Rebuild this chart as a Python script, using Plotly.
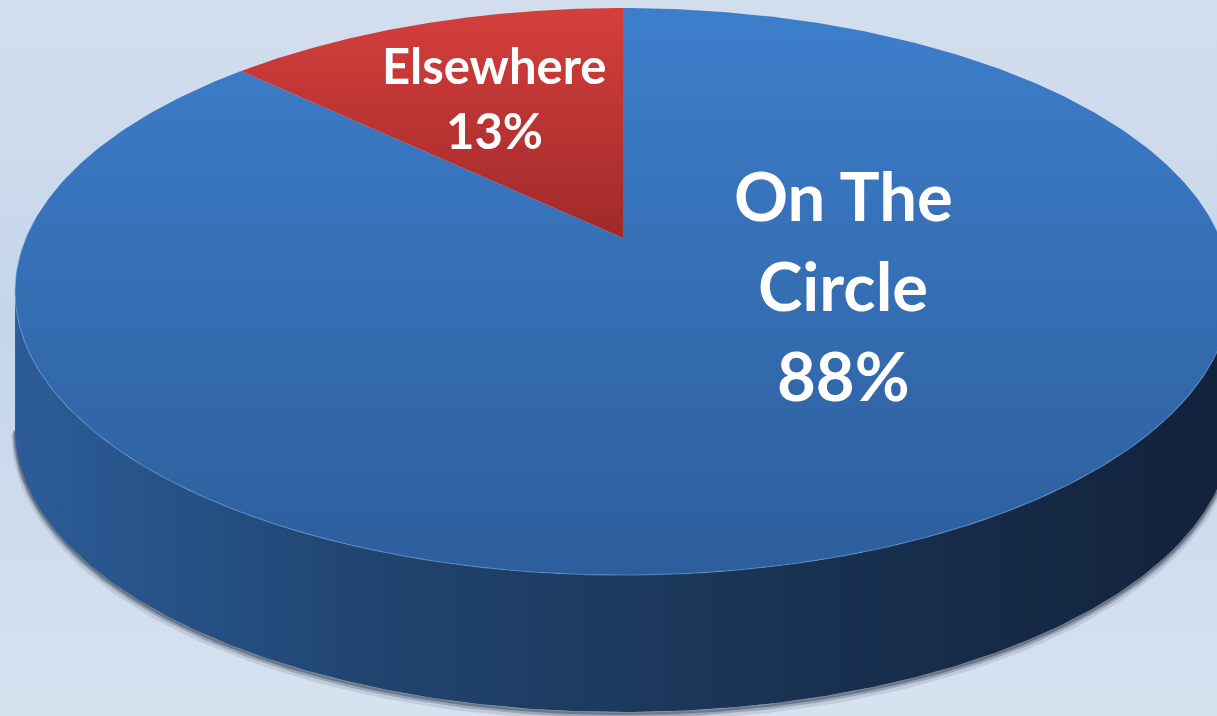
import numpy as np
import plotly.graph_objects as go

# ---- data ----
categories = ["On The Circle", "Elsewhere"]
values = [88, 13]
label_lines = [["On The", "Circle"], ["Elsewhere"]]

# ---- canvas / projection settings (pixels) ----
W, H = 1217, 716
cx, cy = 623, 238          # projected centre of the pie's top face
A, B, k = 597, 273.4, 0.189  # horizontal / vertical radius and perspective factor
DEPTH = 137                # thickness of the disc on screen


def proj(theta, drop=0.0):
    """Project angle(s) on the unit circle to screen coordinates."""
    u, v = np.cos(theta), np.sin(theta)
    w = 1 + k * v
    return cx + A * u / w, cy - B * v / w + drop


top_cols = [("#3d7ecb", "#2d5e9c"), ("#d43f3c", "#a0292a")]

fig = go.Figure()

# background gradient
fig.add_trace(go.Scatter(
    x=[0, W, W, 0, 0], y=[0, 0, H, H, 0], mode="lines", fill="toself",
    line=dict(width=0), hoverinfo="skip",
    fillgradient=dict(type="vertical", start=0, stop=H,
                      colorscale=[[0, "#d3deed"], [0.45, "#c5d6ea"], [1, "#d6e2f0"]]),
))

# side wall: visible front half between the left and right silhouette points
t0 = np.pi + np.arcsin(k)
t1 = 2 * np.pi - np.arcsin(k)
ts = np.linspace(t0, t1, 300)
xt, yt = proj(ts)
xb, yb = proj(ts, DEPTH)

# soft shadow under the disc
for off, alpha, wd in [(5, 0.12, 8), (3, 0.25, 5), (1.5, 0.4, 3)]:
    fig.add_trace(go.Scatter(x=xb, y=yb + off, mode="lines", hoverinfo="skip",
                             line=dict(color=f"rgba(40,50,70,{alpha})", width=wd)))

fig.add_trace(go.Scatter(
    x=np.concatenate([xt, xb[::-1], xt[:1]]),
    y=np.concatenate([yt, yb[::-1], yt[:1]]),
    mode="lines", fill="toself", line=dict(width=0), hoverinfo="skip",
    fillgradient=dict(type="horizontal", start=15, stop=1217,
                      colorscale=[[0, "#2c5c98"], [0.3, "#20446f"],
                                  [0.65, "#193252"], [1, "#12223c"]]),
))

# top face slices, clockwise from 12 o'clock
total = sum(values)
cum = 0.0
for val, (c_top, c_bot) in zip(values, top_cols):
    a_start = np.pi / 2 - 2 * np.pi * cum / total
    a_end = np.pi / 2 - 2 * np.pi * (cum + val) / total
    cum += val
    ang = np.linspace(a_start, a_end, 400)
    xs, ys = proj(ang)
    px = np.concatenate([[cx], xs, [cx]])
    py = np.concatenate([[cy], ys, [cy]])
    fig.add_trace(go.Scatter(
        x=px, y=py, mode="lines", fill="toself", line=dict(width=0),
        hoverinfo="skip",
        fillgradient=dict(type="vertical", start=float(py.min()), stop=float(py.max()),
                          colorscale=[[0, c_top], [1, c_bot]]),
    ))

# light rim along the front edge of the top face
rim = np.linspace(np.pi * 0.98, np.pi * 2.02, 300)
xr, yr = proj(rim)
fig.add_trace(go.Scatter(x=xr, y=yr, mode="lines", hoverinfo="skip",
                         line=dict(color="rgba(110,165,230,0.45)", width=1.2)))

# slice labels
label_pos = [(843, 195, 90, 67), (494, 65, 65, 49)]
for lines, val, (lx, ly, step, size) in zip(label_lines, values, label_pos):
    for i, txt in enumerate(lines + [f"{val}%"]):
        fig.add_annotation(x=lx, y=ly + i * step, text=f"<b>{txt}</b>",
                           showarrow=False, xanchor="center", yanchor="middle",
                           font=dict(family="Lato", size=size, color="white"))

fig.update_layout(
    width=W, height=H, margin=dict(l=0, r=0, t=0, b=0),
    showlegend=False, paper_bgcolor="#ccdaeb", plot_bgcolor="#ccdaeb",
    xaxis=dict(range=[0, W], visible=False, fixedrange=True),
    yaxis=dict(range=[H, 0], visible=False, fixedrange=True),
)

fig.write_html("out.html")
